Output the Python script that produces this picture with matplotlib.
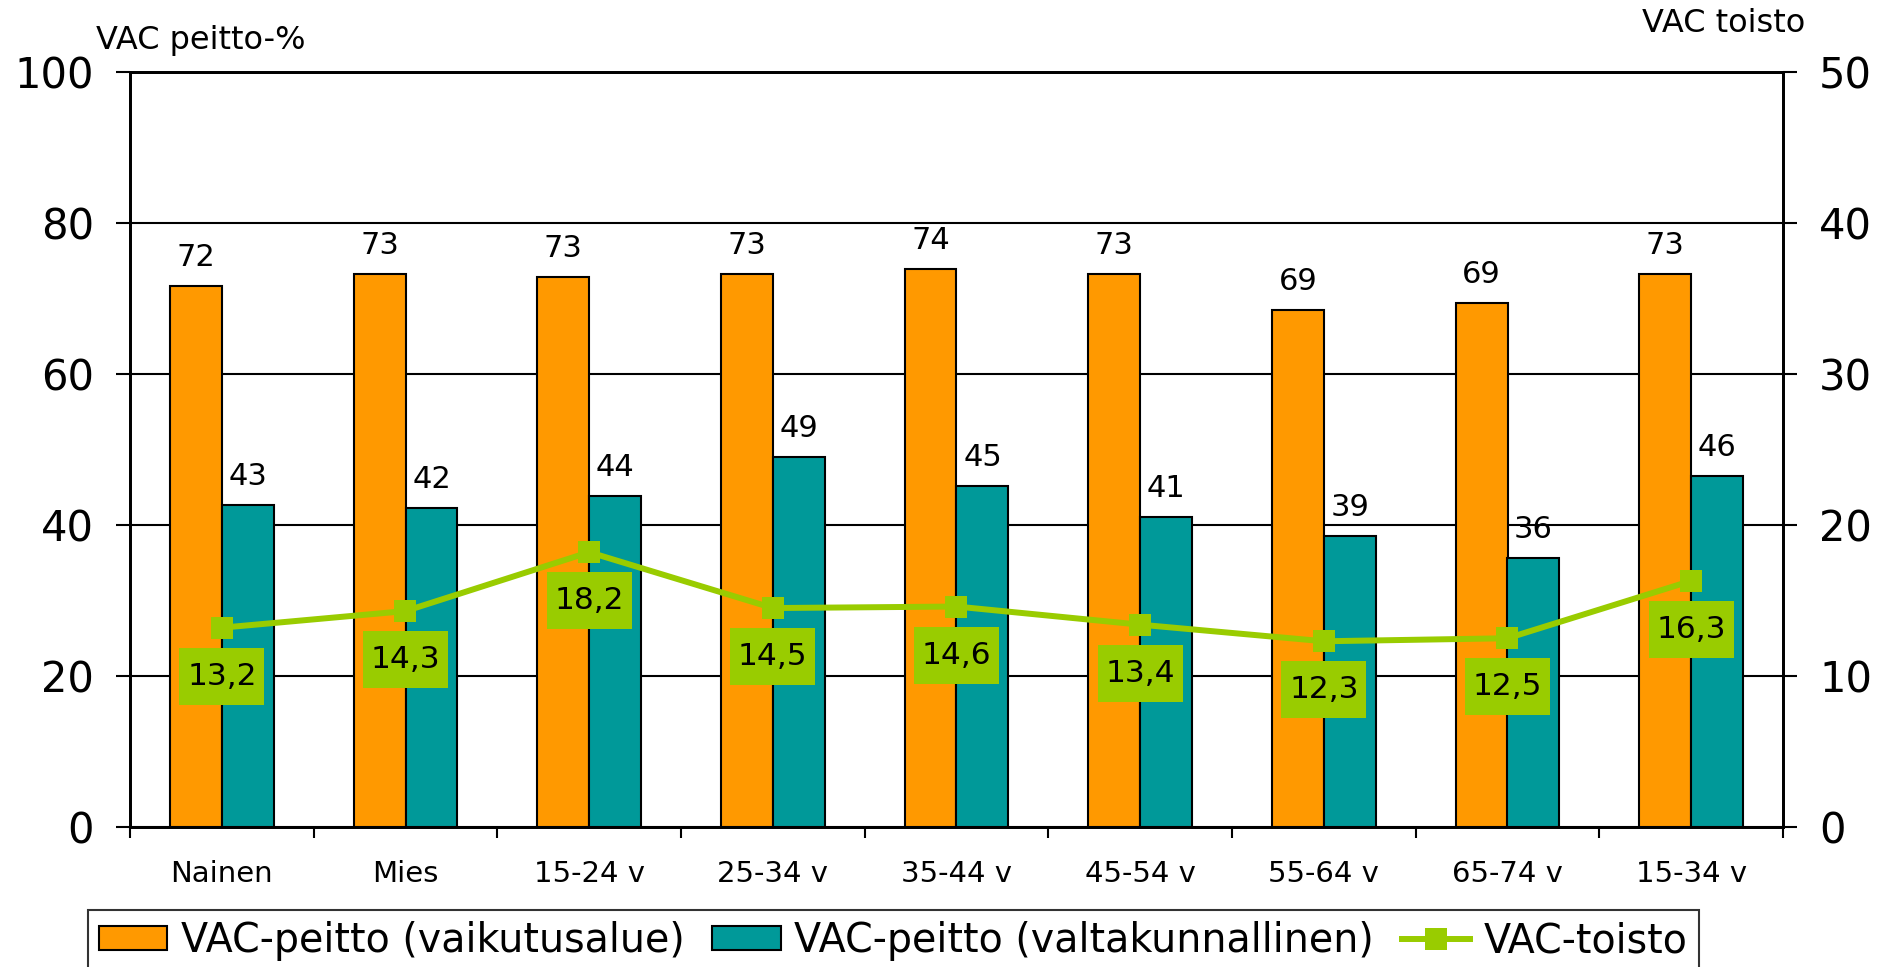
import numpy as np
import matplotlib
matplotlib.use('Agg')
import matplotlib.pyplot as plt
from matplotlib.path import Path

# DATA
categories = ['Nainen', 'Mies', '15-24 v', '25-34 v', '35-44 v',
              '45-54 v', '55-64 v', '65-74 v', '15-34 v']
peitto_alue = [71.7, 73.2, 72.9, 73.2, 73.9, 73.2, 68.5, 69.4, 73.2]
peitto_alue_labels = ['72', '73', '73', '73', '74', '73', '69', '69', '73']
peitto_valtak = [42.6, 42.3, 43.9, 49.0, 45.2, 41.1, 38.5, 35.6, 46.5]
peitto_valtak_labels = ['43', '42', '44', '49', '45', '41', '39', '36', '46']
toisto = [13.2, 14.3, 18.2, 14.5, 14.6, 13.4, 12.3, 12.5, 16.3]

left_ticks = [0, 20, 40, 60, 80, 100]
right_ticks = [0, 10, 20, 30, 40, 50]

# STYLES
colors = {
    'alue': '#FF9900',
    'valtak': '#009999',
    'toisto': '#99CC00',
}
bar_width = 0.283
plt.rcParams['font.family'] = 'DejaVu Sans'


def label_box(x0, y0, width, height, mutation_size):
    """Square label box, wider padding top/bottom than left/right."""
    padx = 0.25 * mutation_size
    pady = 0.45 * mutation_size
    x0, y0 = x0 - padx, y0 - pady
    x1, y1 = x0 + width + 2 * padx, y0 + height + 2 * pady
    return Path([(x0, y0), (x1, y0), (x1, y1), (x0, y1), (x0, y0)],
                closed=True)


fig = plt.figure(figsize=(18.96, 9.67), dpi=100)
ax = fig.add_axes([130 / 1896, 140 / 967, 1653 / 1896, 755 / 967])

x = np.arange(len(categories))
bars1 = ax.bar(x - bar_width / 2, peitto_alue, bar_width, color=colors['alue'],
               edgecolor='black', linewidth=1.5, label='VAC-peitto (vaikutusalue)', zorder=3)
bars2 = ax.bar(x + bar_width / 2, peitto_valtak, bar_width, color=colors['valtak'],
               edgecolor='black', linewidth=1.5, label='VAC-peitto (valtakunnallinen)', zorder=3)

for bar, txt in zip(bars1, peitto_alue_labels):
    ax.annotate(txt, (bar.get_x() + bar.get_width() / 2, bar.get_height()),
                xytext=(0, 10), textcoords='offset points',
                ha='center', va='bottom', fontsize=22, zorder=5)
for bar, txt in zip(bars2, peitto_valtak_labels):
    ax.annotate(txt, (bar.get_x() + bar.get_width() / 2, bar.get_height()),
                xytext=(0, 10), textcoords='offset points',
                ha='center', va='bottom', fontsize=22, zorder=5)

ax.set_xlim(-0.5, len(categories) - 0.5)
ax.set_ylim(0, 100)
ax.set_yticks(left_ticks)
ax.yaxis.grid(True, color='black', linewidth=1.5)
ax.set_axisbelow(True)

# category boundaries as major ticks, names on minor ticks
ax.set_xticks(np.arange(len(categories) + 1) - 0.5)
ax.set_xticklabels([])
ax.set_xticks(x, minor=True)
ax.set_xticklabels(categories, minor=True, fontsize=21)
ax.tick_params(axis='x', which='major', direction='out', length=8, width=1.5)
ax.tick_params(axis='x', which='minor', length=0, pad=24)
ax.tick_params(axis='y', direction='out', length=10, width=1.5, labelsize=30, pad=16)
for side in ['left', 'right', 'bottom', 'top']:
    ax.spines[side].set_linewidth(2)

# VAC toisto on the right axis
ax2 = ax.twinx()
line, = ax2.plot(x, toisto, color=colors['toisto'], linewidth=4.3,
                 marker='s', markersize=16.5, markeredgewidth=0,
                 label='VAC-toisto', zorder=4)
for xi, val in zip(x, toisto):
    ax2.annotate(f'{val:.1f}'.replace('.', ','), (xi, val),
                 xytext=(0, -35), textcoords='offset points',
                 ha='center', va='center', fontsize=22.5, zorder=6,
                 bbox=dict(boxstyle=label_box, fc=colors['toisto'], ec='none'))
ax2.set_ylim(0, 50)
ax2.set_yticks(right_ticks)
ax2.tick_params(axis='y', direction='out', length=10, width=1.5, labelsize=30, pad=16)
for side in ['left', 'right', 'bottom', 'top']:
    ax2.spines[side].set_linewidth(2)

# Axis titles
fig.text(201 / 1896, 1 - 40 / 967, 'VAC peitto-%', ha='center', va='center', fontsize=23)
fig.text(1724 / 1896, 1 - 23 / 967, 'VAC toisto', ha='center', va='center', fontsize=23)

# Legend along the bottom edge
leg = fig.legend(handles=[bars1, bars2, line], ncol=3, loc='upper left',
                 bbox_to_anchor=(88 / 1896, 57 / 967), bbox_transform=fig.transFigure,
                 fontsize=28.5, frameon=True, fancybox=False, borderpad=0.28,
                 handlelength=1.72, handleheight=0.56, handletextpad=0.35,
                 columnspacing=0.7, borderaxespad=0)
leg.get_frame().set_edgecolor('black')
leg.get_frame().set_linewidth(1.5)

fig.savefig('out.png', dpi=100)
